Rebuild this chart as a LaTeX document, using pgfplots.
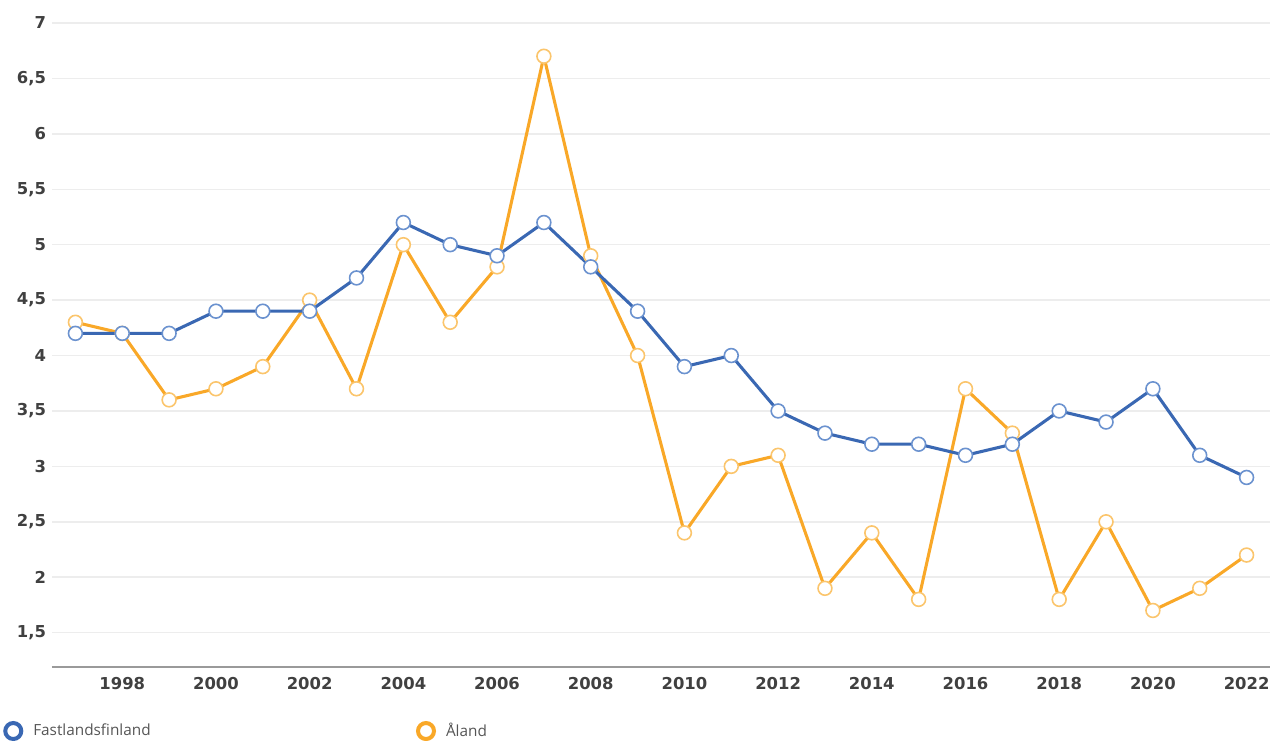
\documentclass[border=0pt]{standalone}
\usepackage{pgfplots}
\pgfplotsset{compat=1.18}
\usepackage{fontspec}
\setmainfont{Open Sans}
\newfontfamily\tickfont{DejaVu Sans}
\definecolor{fblue}{HTML}{3A68B3}
\definecolor{fblueedge}{HTML}{6B92CF}
\definecolor{forange}{HTML}{F9A828}
\definecolor{forangeedge}{HTML}{FBC56C}
\definecolor{tickgray}{HTML}{404040}
\definecolor{leggray}{HTML}{555555}
\definecolor{gridgray}{HTML}{EDEDED}
\definecolor{axisgray}{HTML}{9A9A9A}
\begin{document}
\begin{tikzpicture}
\begin{axis}[
  scale only axis,
  width=913.5pt, height=483pt,
  xmin=1996.5, xmax=2022.5,
  ymin=1.19, ymax=7,
  axis x line*=bottom,
  axis y line*=left,
  x axis line style={-, draw=axisgray, line width=2pt},
  y axis line style={draw=none},
  major tick length=0pt,
  xtick={1998,2000,...,2022},
  ytick={1.5,2,2.5,3,3.5,4,4.5,5,5.5,6,6.5,7},
  ymajorgrids,
  grid style={gridgray, line width=1.1pt},
  /pgf/number format/assume math mode=true,
  xticklabel style={/pgf/number format/1000 sep={}, font=\tickfont\bfseries\fontsize{12.3}{14}\selectfont, text=tickgray, yshift=-4pt},
  yticklabel style={/pgf/number format/.cd, use comma, 1000 sep={}, /tikz/.cd, font=\tickfont\bfseries\fontsize{12.3}{14}\selectfont, text=tickgray, xshift=-1pt},
  legend columns=2,
  legend style={draw=none, fill=none, at={(rel axis cs:-0.0435,-0.0994)}, anchor=west,
    font=\fontsize{11.5}{13}\selectfont, text=leggray,
    /tikz/every even column/.append style={column sep=197pt}},
  legend image code/.code={\draw[#1, line width=3pt, fill=white] (0pt,0pt) circle (6pt);
    \path[draw=none] (0pt,0pt) -- (13pt,0pt);},
  clip=false,
]
\addlegendimage{fblue}
\addlegendentry{Fastlandsfinland}
\addlegendimage{forange}
\addlegendentry{Åland}

\addplot[forget plot, forange, line width=2.3pt, mark=*, mark size=5.2pt,
  mark options={fill=white, draw=forangeedge, line width=1.2pt}] coordinates {
(1997,4.3) (1998,4.2) (1999,3.6) (2000,3.7) (2001,3.9) (2002,4.5) (2003,3.7)
(2004,5.0) (2005,4.3) (2006,4.8) (2007,6.7) (2008,4.9) (2009,4.0) (2010,2.4)
(2011,3.0) (2012,3.1) (2013,1.9) (2014,2.4) (2015,1.8) (2016,3.7) (2017,3.3)
(2018,1.8) (2019,2.5) (2020,1.7) (2021,1.9) (2022,2.2)};

\addplot[forget plot, fblue, line width=2.3pt, mark=*, mark size=5.2pt,
  mark options={fill=white, draw=fblueedge, line width=1.2pt}] coordinates {
(1997,4.2) (1998,4.2) (1999,4.2) (2000,4.4) (2001,4.4) (2002,4.4) (2003,4.7)
(2004,5.2) (2005,5.0) (2006,4.9) (2007,5.2) (2008,4.8) (2009,4.4) (2010,3.9)
(2011,4.0) (2012,3.5) (2013,3.3) (2014,3.2) (2015,3.2) (2016,3.1) (2017,3.2)
(2018,3.5) (2019,3.4) (2020,3.7) (2021,3.1) (2022,2.9)};
\end{axis}
\pgfresetboundingbox
\path (-39pt,500.25pt) rectangle (914.25pt,-54.75pt);
\end{tikzpicture}
\end{document}
